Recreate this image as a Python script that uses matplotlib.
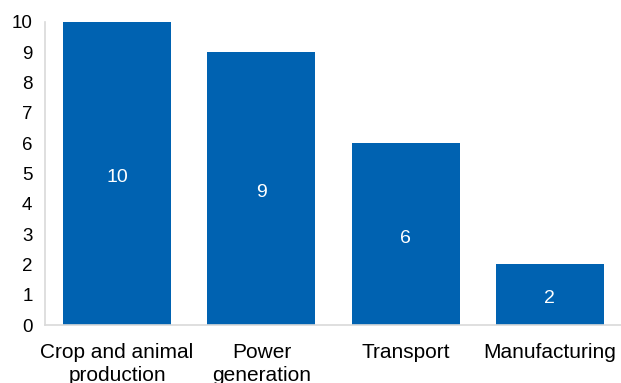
import matplotlib.pyplot as plt
import numpy as np

categories = ["Crop and animal\nproduction", "Power\ngeneration", "Transport", "Manufacturing"]
values = [10, 9, 6, 2]
yticks = list(range(0, 11))

bar_color = "#0062B1"
axis_color = "#D9D9D9"

plt.rcParams["font.family"] = ["Liberation Sans", "DejaVu Sans"]

fig = plt.figure(figsize=(6.21, 3.83), dpi=100)
ax = fig.add_axes([45 / 621, 1 - 325 / 383, 577 / 621, (325 - 22) / 383])

x = np.arange(len(categories))
bars = ax.bar(x, values, width=0.75, color=bar_color, zorder=2)
for rect, v in zip(bars, values):
    ax.annotate(str(v), (rect.get_x() + rect.get_width() / 2, v / 2),
                xytext=(0, -3), textcoords="offset points",
                ha="center", va="center", color="white", fontsize=14)

ax.set_xlim(-0.5, len(categories) - 0.5)
ax.set_ylim(0, 10)
ax.set_yticks(yticks)
ax.set_xticks(x)
ax.set_xticklabels(categories, fontsize=15, linespacing=1.25)
ax.tick_params(axis="y", length=0, pad=9, labelsize=13.5)
ax.tick_params(axis="x", length=0, pad=13)

for side in ["top", "right"]:
    ax.spines[side].set_visible(False)
for side in ["left", "bottom"]:
    ax.spines[side].set_color(axis_color)
    ax.spines[side].set_linewidth(1.2)

fig.savefig("out.png", dpi=100)
